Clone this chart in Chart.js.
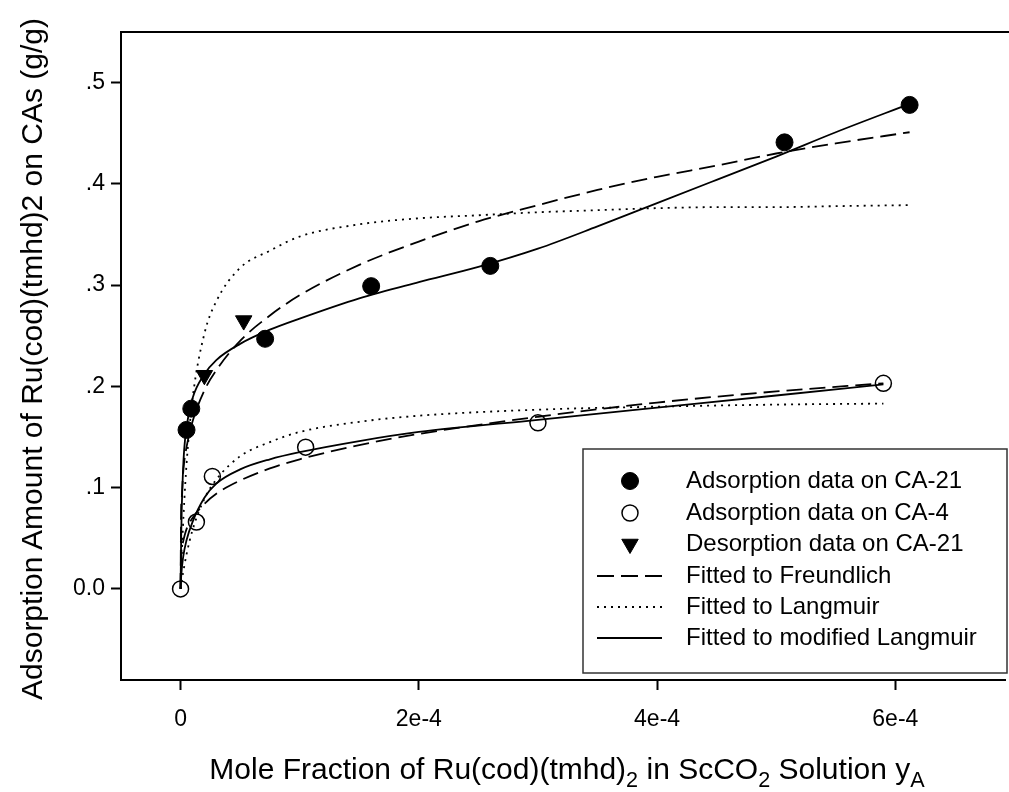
<!DOCTYPE html>
<html>
<head>
<meta charset="utf-8">
<script src="https://cdn.jsdelivr.net/npm/chart.js@4.4.1/dist/chart.umd.min.js"></script>
<style>
  html, body { margin: 0; padding: 0; background: #fff; overflow: hidden; }
  #wrap { position: relative; width: 1016px; height: 792px; }
  .axis-title {
    position: absolute;
    font-family: "Liberation Sans", Arial, sans-serif;
    color: #000;
    white-space: nowrap;
    line-height: 1;
  }
  #xtitle { font-size: 30px; left: 567px; top: 769px; transform: translate(-50%, -50%); }
  #ytitle { font-size: 30px; left: 32px; top: 359px; transform: translate(-50%, -50%) rotate(-90deg); }
  .axis-title sub { font-size: 0.72em; vertical-align: -0.35em; line-height: 0; }
</style>
</head>
<body>
<div id="wrap">
  <canvas id="chart" width="1016" height="792"></canvas>
  <div class="axis-title" id="xtitle">Mole Fraction of Ru(cod)(tmhd)<sub>2</sub> in ScCO<sub>2</sub> Solution y<sub>A</sub></div>
  <div class="axis-title" id="ytitle">Adsorption Amount of Ru(cod)(tmhd)2 on CAs (g/g)</div>
</div>
<script>
// measured points (x in mole fraction, y in g/g)
const ca21AdsX = [0.05e-4, 0.09e-4, 0.71e-4, 1.6e-4, 2.6e-4, 5.07e-4, 6.12e-4];
const ca21AdsY = [0.157, 0.178, 0.247, 0.299, 0.319, 0.441, 0.478];
const ca4AdsX = [0, 0.133e-4, 0.267e-4, 1.05e-4, 3.0e-4, 5.9e-4];
const ca4AdsY = [0, 0.066, 0.111, 0.140, 0.164, 0.203];
const ca21DesX = [0.2e-4, 0.53e-4];
const ca21DesY = [0.211, 0.265];

// fitted curves
const ca21FitX = [0, 0.005e-4, 0.01e-4, 0.02e-4, 0.03e-4, 0.05e-4, 0.1e-4, 0.2e-4, 0.3e-4, 0.5e-4, 0.75e-4, 1.0e-4, 1.5e-4, 2.0e-4, 2.5e-4, 3.0e-4, 3.5e-4, 4.0e-4, 4.5e-4, 5.0e-4, 5.5e-4, 6.12e-4];
const ca21FreundY = [0, 0.080, 0.090, 0.112, 0.125, 0.140, 0.165, 0.196, 0.216, 0.245, 0.270, 0.290, 0.320, 0.343, 0.363, 0.379, 0.394, 0.407, 0.418, 0.430, 0.440, 0.451];
const ca21LangY = [0, 0.018, 0.033, 0.061, 0.084, 0.123, 0.187, 0.252, 0.284, 0.317, 0.334, 0.348, 0.360, 0.366, 0.369, 0.372, 0.374, 0.376, 0.377, 0.377, 0.378, 0.379];
const ca21ModY = [0, 0.050, 0.080, 0.115, 0.137, 0.160, 0.188, 0.212, 0.226, 0.242, 0.256, 0.267, 0.287, 0.303, 0.318, 0.336, 0.358, 0.381, 0.404, 0.427, 0.451, 0.479];

const ca4FitX = [0, 0.005e-4, 0.02e-4, 0.05e-4, 0.1e-4, 0.2e-4, 0.3e-4, 0.5e-4, 0.75e-4, 1.0e-4, 1.5e-4, 2.0e-4, 3.0e-4, 4.0e-4, 5.0e-4, 5.9e-4];
const ca4FreundY = [0, 0.032, 0.046, 0.059, 0.070, 0.084, 0.094, 0.107, 0.119, 0.128, 0.142, 0.153, 0.170, 0.184, 0.195, 0.203];
const ca4LangY = [0, 0.004, 0.015, 0.034, 0.058, 0.089, 0.108, 0.131, 0.145, 0.155, 0.165, 0.171, 0.177, 0.180, 0.182, 0.183];
const ca4ModY = [0, 0.012, 0.030, 0.048, 0.066, 0.090, 0.104, 0.118, 0.128, 0.135, 0.146, 0.155, 0.167, 0.179, 0.191, 0.202];

const xTicks = [0, 2e-4, 4e-4, 6e-4];
const xTickLabels = ['0', '2e-4', '4e-4', '6e-4'];
const yTicks = [0, 0.1, 0.2, 0.3, 0.4, 0.5];
const yTickLabels = ['0.0', '.1', '.2', '.3', '.4', '.5'];

const legendLabels = [
  'Adsorption data on CA-21',
  'Adsorption data on CA-4',
  'Desorption data on CA-21',
  'Fitted to Freundlich',
  'Fitted to Langmuir',
  'Fitted to modified Langmuir'
];

const FONT = '"Liberation Sans", Arial, sans-serif';
const pts = (xs, ys) => xs.map((x, i) => ({ x: x, y: ys[i] }));

function curve(xs, ys, dash) {
  return {
    data: pts(xs, ys),
    showLine: true,
    borderColor: '#000',
    borderWidth: 1.8,
    borderDash: dash,
    pointRadius: 0,
    pointHoverRadius: 0,
    cubicInterpolationMode: 'monotone',
    fill: false,
    order: 2
  };
}

// top frame line and the boxed legend
const framePlugin = {
  id: 'frame',
  afterDraw(chart) {
    const ctx = chart.ctx;
    const a = chart.chartArea;
    ctx.save();
    ctx.strokeStyle = '#000';
    ctx.lineWidth = 2;
    ctx.beginPath();
    ctx.moveTo(a.left - 1, a.top);
    ctx.lineTo(a.right + 4, a.top);
    ctx.stroke();

    // legend
    const box = { left: 583, top: 449, right: 1007, bottom: 673 };
    ctx.fillStyle = '#fff';
    ctx.fillRect(box.left, box.top, box.right - box.left, box.bottom - box.top);
    ctx.strokeStyle = '#333';
    ctx.lineWidth = 1.5;
    ctx.strokeRect(box.left, box.top, box.right - box.left, box.bottom - box.top);

    const rowY = [481, 513, 544, 576, 607, 638];
    const symX = 630;
    ctx.strokeStyle = '#000';
    ctx.fillStyle = '#000';
    ctx.lineWidth = 1;
    Chart.helpers.drawPoint(ctx, { pointStyle: 'circle', radius: 8.5, borderWidth: 1 }, symX, rowY[0]);
    ctx.fillStyle = 'rgba(0,0,0,0)';
    ctx.lineWidth = 1.5;
    Chart.helpers.drawPoint(ctx, { pointStyle: 'circle', radius: 8, borderWidth: 1.5 }, symX, rowY[1]);
    ctx.fillStyle = '#000';
    ctx.lineWidth = 1;
    Chart.helpers.drawPoint(ctx, { pointStyle: 'triangle', radius: 9.5, rotation: 180, borderWidth: 1 }, symX, rowY[2]);

    const dashes = [[17, 7], [2, 5], []];
    ctx.lineWidth = 1.8;
    dashes.forEach((d, i) => {
      ctx.setLineDash(d);
      ctx.beginPath();
      ctx.moveTo(symX - 33, rowY[3 + i]);
      ctx.lineTo(symX + 32, rowY[3 + i]);
      ctx.stroke();
    });
    ctx.setLineDash([]);

    ctx.fillStyle = '#000';
    ctx.font = '24px ' + FONT;
    ctx.textAlign = 'left';
    ctx.textBaseline = 'middle';
    legendLabels.forEach((t, i) => ctx.fillText(t, 686, rowY[i]));
    ctx.restore();
  }
};

new Chart(document.getElementById('chart').getContext('2d'), {
  type: 'scatter',
  data: {
    datasets: [
      {
        data: pts(ca21AdsX, ca21AdsY),
        pointStyle: 'circle', pointRadius: 8.5,
        backgroundColor: '#000', borderColor: '#000', borderWidth: 1,
        order: 0
      },
      {
        data: pts(ca4AdsX, ca4AdsY),
        pointStyle: 'circle', pointRadius: 8,
        backgroundColor: 'rgba(0,0,0,0)', borderColor: '#000', borderWidth: 1.5,
        order: 0
      },
      {
        data: pts(ca21DesX, ca21DesY),
        pointStyle: 'triangle', rotation: 180, pointRadius: 9.5,
        backgroundColor: '#000', borderColor: '#000', borderWidth: 1,
        order: 0
      },
      curve(ca21FitX, ca21FreundY, [16, 7]),
      curve(ca21FitX, ca21LangY, [2, 5]),
      curve(ca21FitX, ca21ModY, []),
      curve(ca4FitX, ca4FreundY, [16, 7]),
      curve(ca4FitX, ca4LangY, [2, 5]),
      curve(ca4FitX, ca4ModY, [])
    ]
  },
  options: {
    responsive: false,
    animation: false,
    events: [],
    layout: { padding: { left: 0, top: 32, right: 4, bottom: 0 } },
    plugins: { legend: { display: false }, tooltip: { enabled: false } },
    scales: {
      x: {
        type: 'linear',
        min: -0.5e-4,
        max: 6.925e-4,
        afterFit(scale) { scale.height = 112; },
        afterBuildTicks(scale) { scale.ticks = xTicks.map(v => ({ value: v })); },
        border: { display: true, color: '#000', width: 2 },
        grid: { display: true, drawOnChartArea: false, drawTicks: true, tickLength: 10, tickWidth: 2, tickColor: '#000' },
        ticks: {
          color: '#000',
          font: { family: FONT, size: 23 },
          padding: 16,
          maxRotation: 0,
          autoSkip: false,
          callback: (v) => xTickLabels[xTicks.indexOf(v)]
        }
      },
      y: {
        type: 'linear',
        min: -0.09,
        max: 0.55,
        afterFit(scale) { scale.width = 121; },
        afterBuildTicks(scale) { scale.ticks = yTicks.map(v => ({ value: v })); },
        border: { display: true, color: '#000', width: 2 },
        grid: { display: true, drawOnChartArea: false, drawTicks: true, tickLength: 10, tickWidth: 2, tickColor: '#000' },
        ticks: {
          color: '#000',
          font: { family: FONT, size: 23 },
          padding: 6,
          autoSkip: false,
          callback: (v) => yTickLabels[yTicks.indexOf(v)]
        }
      }
    }
  },
  plugins: [framePlugin]
});
</script>
</body>
</html>
